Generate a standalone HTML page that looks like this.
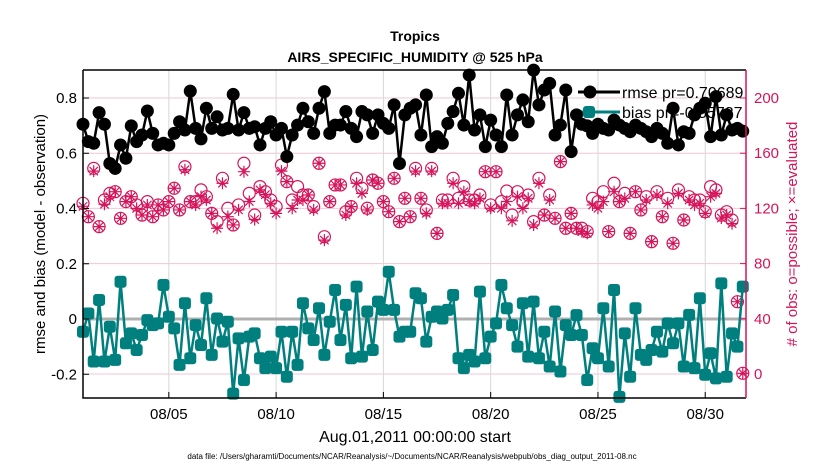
<!DOCTYPE html>
<html><head><meta charset="utf-8"><style>
body{margin:0;background:#fff;}
svg{display:block;font-family:"Liberation Sans",sans-serif;}
</style></head><body>
<svg id="chart" width="830" height="470" xmlns="http://www.w3.org/2000/svg">
<text x="415" y="41" text-anchor="middle" font-size="14" font-weight="bold">Tropics</text>
<text x="415" y="62" text-anchor="middle" font-size="14" font-weight="bold">AIRS_SPECIFIC_HUMIDITY @ 525 hPa</text>
<g id="grid"></g>
<g id="marks"></g>
<g id="axes"></g>
<text x="415" y="442" text-anchor="middle" font-size="16">Aug.01,2011 00:00:00 start</text>
<text transform="translate(45,234) rotate(-90)" text-anchor="middle" font-size="15">rmse and bias (model - observation)</text>
<text transform="translate(797,234) rotate(-90)" text-anchor="middle" font-size="15" fill="#d6145a"># of obs: o=possible; ×=evaluated</text>
<text x="412" y="459" text-anchor="middle" font-size="8">data file: /Users/gharamti/Documents/NCAR/Reanalysis/~/Documents/NCAR/Reanalysis/webpub/obs_diag_output_2011-08.nc</text>
</svg>
<script>
const xTicks=[5,10,15,20,25,30];
const xTickLabels=["08/05","08/10","08/15","08/20","08/25","08/30"];
const leftTicks=[-0.2,0,0.2,0.4,0.6,0.8];
const leftTickLabels=["-0.2","0","0.2","0.4","0.6","0.8"];
const rightTicks=[0,40,80,120,160,200];
const rmse=[0.705,0.642,0.636,0.747,0.705,0.563,0.545,0.630,0.582,0.699,0.642,0.666,0.753,0.672,0.630,0.636,0.630,0.672,0.714,0.684,0.825,0.690,0.652,0.763,0.690,0.732,0.684,0.690,0.813,0.684,0.747,0.690,
0.696,0.630,0.690,0.714,0.666,0.690,0.588,0.666,0.702,0.763,0.714,0.672,0.763,0.823,0.672,0.702,0.702,0.751,0.690,0.660,0.751,0.739,0.672,0.739,0.708,0.690,0.775,0.563,0.739,0.763,0.775,0.666,
0.811,0.624,0.660,0.636,0.708,0.751,0.817,0.702,0.883,0.684,0.739,0.624,0.720,0.666,0.624,0.811,0.666,0.739,0.793,0.714,0.901,0.775,0.829,0.853,0.666,0.702,0.829,0.606,0.739,
0.705,0.699,0.672,0.705,0.690,0.684,0.720,0.702,0.690,0.678,0.702,0.690,0.678,0.660,0.690,0.672,0.636,0.763,0.630,0.678,0.672,0.739,0.763,0.781,0.660,0.805,0.666,0.739,0.684,0.690,0.680];
const bias=[-0.046,0.020,-0.154,0.069,-0.154,-0.028,-0.148,0.135,-0.088,-0.052,-0.112,-0.058,-0.004,-0.022,-0.016,0.123,0.008,-0.034,-0.166,0.057,-0.142,-0.022,-0.094,0.075,-0.130,0.002,-0.082,-0.010,-0.270,-0.070,-0.221,-0.064,
-0.052,-0.142,-0.178,-0.136,-0.178,-0.046,-0.209,-0.046,-0.166,0.057,-0.034,-0.076,0.039,-0.130,-0.010,0.105,-0.076,0.051,-0.142,0.117,-0.136,0.027,-0.112,0.063,0.033,0.171,0.033,-0.064,-0.046,-0.046,0.093,0.075,
-0.082,0.008,0.027,0.002,0.033,0.087,-0.142,-0.178,-0.130,-0.154,0.099,-0.142,-0.064,-0.016,0.123,0.039,-0.022,-0.100,0.057,-0.136,0.063,-0.142,-0.046,-0.172,0.027,-0.190,-0.022,-0.058,0.014,
-0.058,-0.221,-0.106,-0.142,0.039,-0.172,0.105,-0.282,-0.052,-0.209,0.039,-0.130,-0.148,-0.112,-0.046,-0.118,-0.016,-0.088,-0.016,-0.172,0.015,-0.178,0.075,-0.202,-0.124,-0.215,0.129,-0.209,-0.052,-0.100,0.117];
const possible=[123.7,114.0,149.0,106.8,126.1,130.9,132.1,112.8,124.9,128.5,122.5,115.2,124.9,114.0,122.5,118.9,124.9,134.6,118.9,150.2,124.9,124.9,133.4,128.5,116.4,110.4,141.8,120.1,108.0,122.5,152.7,130.9,
115.2,135.8,132.1,126.1,121.3,151.4,139.4,126.1,135.8,129.7,129.7,121.3,152.7,99.5,124.9,137.0,137.0,117.6,121.3,141.8,134.6,120.1,140.6,138.2,124.9,117.6,141.8,110.4,127.3,114.0,149.0,127.3,
118.9,149.0,101.9,126.1,126.1,141.8,127.3,135.8,126.1,126.1,129.7,146.6,122.5,146.6,124.9,132.6,115.2,132.1,124.9,129.7,110.4,141.8,115.2,129.7,112.8,153.9,105.6,116.4,105.6,
105.6,103.2,127.3,124.9,132.1,103.2,138.2,124.9,130.9,101.9,132.1,118.9,128.5,95.9,132.1,114.0,127.3,94.7,133.4,111.6,128.5,126.1,126.1,117.6,135.8,133.4,115.2,117.6,111.6,52.4,0.5];
const evaluated=[121.5,114.0,147.0,106.8,123.0,128.5,132.1,112.8,124.9,128.5,120.0,115.2,122.5,114.0,122.5,118.9,124.9,134.6,118.9,148.0,124.9,122.5,128.5,126.1,116.4,105.6,138.2,114.0,108.0,118.9,146.6,125.0,
112.0,133.4,130.0,123.7,116.4,147.0,139.4,120.0,126.1,126.1,129.7,118.9,152.7,97.0,124.9,137.0,137.0,115.2,121.3,138.2,130.9,118.9,140.6,138.2,124.9,117.6,141.8,110.4,127.3,114.0,147.0,127.3,
116.4,147.0,101.9,123.7,123.7,138.2,123.7,132.1,124.9,123.7,127.3,146.6,120.1,146.6,120.1,125.0,111.0,128.5,120.0,127.3,108.0,138.2,115.2,126.1,112.8,153.9,105.6,116.4,105.6,
103.2,101.9,122.5,120.1,124.9,103.2,132.1,124.9,127.3,101.9,132.1,118.9,126.1,95.9,129.7,114.0,123.7,94.7,130.9,111.6,126.1,122.5,123.7,116.4,128.5,130.9,113.0,115.2,109.0,52.4,0.5];

const L=83,R=746,T=70,B=398;
const xs=d=>L+(d-1)*(R-L)/30.9;
const yl=v=>319-v*276.25;
const yr=c=>374-c*1.38;
const dayOf=i=>1+i*0.25;
const NS="http://www.w3.org/2000/svg";
function mk(tag,parent,attrs){const e=document.createElementNS(NS,tag);for(const k in attrs)e.setAttribute(k,attrs[k]);parent.appendChild(e);return e;}
const grid=document.getElementById('grid'),marks=document.getElementById('marks'),axes=document.getElementById('axes');
rightTicks.forEach(c=>{const l=mk('line',grid,{x1:L,x2:R,y1:yr(c),y2:yr(c),stroke:'#f2c6d8','stroke-width':1});

});
xTicks.forEach(d=>{const l=mk('line',grid,{x1:xs(d),x2:xs(d),y1:T,y2:B,stroke:'#d8d8d8','stroke-width':1});

});
const z=mk('line',grid,{x1:L,x2:R,y1:yl(0),y2:yl(0),stroke:'#b0b0b0','stroke-width':3});


const lg=mk('g',marks,{});


mk('line',lg,{x1:578,x2:620,y1:92,y2:92,stroke:'#000','stroke-width':3});
mk('circle',lg,{cx:590,cy:92,r:6.5,fill:'#000'});
const t1=mk('text',lg,{x:622,y:98,'font-size':16});t1.textContent='rmse pr=0.70689';


mk('line',lg,{x1:578,x2:620,y1:112,y2:112,stroke:'#007f7f','stroke-width':3});
mk('rect',lg,{x:583,y:106,width:12,height:12,rx:3,fill:'#007f7f'});
const t2=mk('text',lg,{x:622,y:118,'font-size':16});t2.textContent='bias pr=-0.55737';


const pk='#d6145a';
possible.forEach((c,i)=>{const e=mk('circle',marks,{cx:xs(dayOf(i)),cy:yr(c),r:6,fill:'none',stroke:pk,'stroke-width':1.2});

});
evaluated.forEach((c,i)=>{const x=xs(dayOf(i)),y=yr(c),s=6;
const p=mk('path',marks,{d:`M${x-s},${y}H${x+s}M${x},${y-s}V${y+s}M${x-s*.7},${y-s*.7}L${x+s*.7},${y+s*.7}M${x-s*.7},${y+s*.7}L${x+s*.7},${y-s*.7}`,stroke:pk,'stroke-width':1.2,fill:'none'});

});
const bl=mk('polyline',marks,{points:bias.map((v,i)=>xs(dayOf(i))+','+yl(v)).join(' '),fill:'none',stroke:'#007f7f','stroke-width':2.5});


bias.forEach((v,i)=>{const e=mk('rect',marks,{x:xs(dayOf(i))-6,y:yl(v)-6,width:12,height:12,rx:3,fill:'#007f7f'});

});
const rl=mk('polyline',marks,{points:rmse.map((v,i)=>xs(dayOf(i))+','+yl(v)).join(' '),fill:'none',stroke:'#000','stroke-width':2.5});


rmse.forEach((v,i)=>{const e=mk('circle',marks,{cx:xs(dayOf(i)),cy:yl(v),r:6.5,fill:'#000'});

});
mk('polyline',axes,{points:`${L},${T} ${L},${B} ${R},${B}`,fill:'none',stroke:'#000','stroke-width':1.5});
mk('line',axes,{x1:L,x2:R,y1:T,y2:T,stroke:'#000','stroke-width':1.5});
mk('line',axes,{x1:R,x2:R,y1:T,y2:B,stroke:pk,'stroke-width':1.5});
xTicks.forEach((d,i)=>{mk('line',axes,{x1:xs(d),x2:xs(d),y1:B,y2:B-6,stroke:'#000'});
const t=mk('text',axes,{x:xs(d),y:B+21,'text-anchor':'middle','font-size':15});t.textContent=xTickLabels[i];

});
leftTicks.forEach((v,i)=>{mk('line',axes,{x1:L,x2:L+6,y1:yl(v),y2:yl(v),stroke:'#000'});
const t=mk('text',axes,{x:L-6,y:yl(v)+5,'text-anchor':'end','font-size':15});t.textContent=leftTickLabels[i];

});
rightTicks.forEach(c=>{mk('line',axes,{x1:R,x2:R-6,y1:yr(c),y2:yr(c),stroke:pk});
const t=mk('text',axes,{x:R+8,y:yr(c)+5,'font-size':15,fill:pk});t.textContent=String(c);

});
</script>
</body></html>
